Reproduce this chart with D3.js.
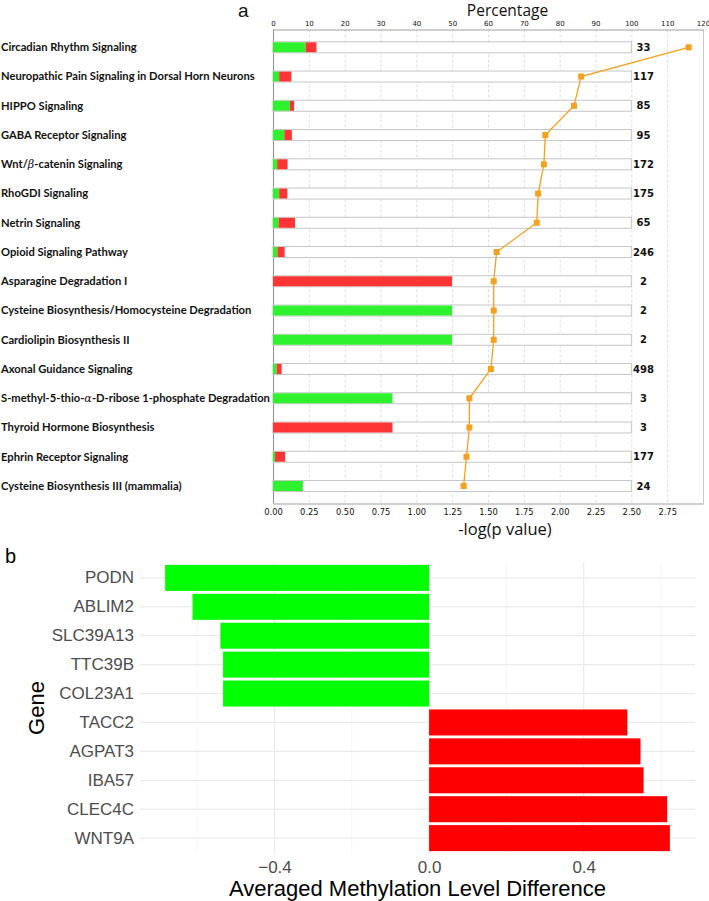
<!DOCTYPE html>
<html>
<head>
<meta charset="utf-8">
<script src="https://cdn.jsdelivr.net/npm/d3@7"></script>
<style>
  html, body { margin: 0; padding: 0; background: #fff; }
  svg { display: block; }
</style>
</head>
<body>
<svg id="chart" width="709" height="901"></svg>
<script>
// ---------- Panel a data ----------
const pathways = [
  "Circadian Rhythm Signaling",
  "Neuropathic Pain Signaling in Dorsal Horn Neurons",
  "HIPPO Signaling",
  "GABA Receptor Signaling",
  "Wnt/β-catenin Signaling",
  "RhoGDI Signaling",
  "Netrin Signaling",
  "Opioid Signaling Pathway",
  "Asparagine Degradation I",
  "Cysteine Biosynthesis/Homocysteine Degradation",
  "Cardiolipin Biosynthesis II",
  "Axonal Guidance Signaling",
  "S-methyl-5-thio-α-D-ribose 1-phosphate Degradation",
  "Thyroid Hormone Biosynthesis",
  "Ephrin Receptor Signaling",
  "Cysteine Biosynthesis III (mammalia)"
];
const downCounts = [3, 2, 4, 3, 2, 3, 1, 3, 0, 1, 1, 5, 1, 0, 1, 2];
const upCounts   = [1, 4, 1, 2, 5, 4, 3, 5, 1, 0, 0, 7, 0, 1, 5, 0];
const totals     = [33, 117, 85, 95, 172, 175, 65, 246, 2, 2, 2, 498, 3, 3, 177, 24];
const logP       = [2.90, 2.15, 2.10, 1.90, 1.89, 1.85, 1.84, 1.56, 1.54, 1.54, 1.54, 1.52, 1.37, 1.37, 1.35, 1.33];
const pctTicks   = [0, 10, 20, 30, 40, 50, 60, 70, 80, 90, 100, 110, 120];
const logTicks   = [0, 0.25, 0.5, 0.75, 1.0, 1.25, 1.5, 1.75, 2.0, 2.25, 2.5, 2.75];

// ---------- Panel b data ----------
const genes = ["PODN", "ABLIM2", "SLC39A13", "TTC39B", "COL23A1", "TACC2", "AGPAT3", "IBA57", "CLEC4C", "WNT9A"];
const methDiff = [-0.683, -0.612, -0.540, -0.533, -0.533, 0.513, 0.547, 0.555, 0.616, 0.623];
const methTicks = [-0.4, 0.0, 0.4];
const methMinor = [-0.6, -0.2, 0.2, 0.6];

const svg = d3.select("#chart");
const GREEN_A = "#2ef22e", RED_A = "#ff3535", ORANGE = "#f5a01e";

// ================= Panel a =================
const aLeft = 273, aRight = 703, aTop = 29.5, aBottom = 503.5;
const xPct = d3.scaleLinear().domain([0, 120]).range([aLeft, aRight]);
const xLog = d3.scaleLinear().domain([0, 3]).range([aLeft, aRight]);
const yA = d3.scalePoint().domain(pathways).range([47.3, 486]);
const barH = 11;

const gA = svg.append("g");

// dashed vertical grid
gA.append("g").selectAll("line").data(pctTicks.slice(1, -1)).join("line")
  .attr("x1", d => xPct(d) + 0.5).attr("x2", d => xPct(d) + 0.5)
  .attr("y1", aTop).attr("y2", aBottom)
  .attr("stroke", "#d6d6d6").attr("stroke-width", 0.8).attr("stroke-dasharray", "3,2");

// frame
gA.append("line").attr("x1", aRight + 0.5).attr("x2", aRight + 0.5).attr("y1", aTop).attr("y2", aBottom)
  .attr("stroke", "#c8c8c8");

// top axis
const topAxis = d3.axisTop(xPct).tickValues(pctTicks).tickSize(0).tickPadding(4).tickFormat(d3.format("d"));
const gTop = gA.append("g").attr("transform", `translate(0,${aTop})`).call(topAxis);
gTop.select(".domain").attr("stroke", "#a0a0a0");
gTop.selectAll("text").attr("font-family", "DejaVu Sans").attr("font-size", 7).attr("fill", "#111");

// bottom axis
const botAxis = d3.axisBottom(xLog).tickValues(logTicks).tickSize(0).tickPadding(6).tickFormat(d3.format(".2f"));
const gBot = gA.append("g").attr("transform", `translate(0,${aBottom})`).call(botAxis);
gBot.select(".domain").attr("stroke", "#a0a0a0");
gBot.selectAll("text").attr("font-family", "DejaVu Sans").attr("font-size", 8.3).attr("fill", "#111");

// left axis line
gA.append("line").attr("x1", aLeft + 0.5).attr("x2", aLeft + 0.5).attr("y1", aTop).attr("y2", aBottom)
  .attr("stroke", "#909090");

// background bars (0..100%)
gA.append("g").selectAll("rect").data(pathways).join("rect")
  .attr("x", xPct(0)).attr("width", xPct(100) - xPct(0))
  .attr("y", d => yA(d) - barH / 2).attr("height", barH)
  .attr("fill", "#fff").attr("stroke", "#c6c6c6").attr("stroke-width", 1);

// stacked percentage bars
const rows = pathways.map((p, i) => ({
  p, down: 100 * downCounts[i] / totals[i], up: 100 * upCounts[i] / totals[i], total: totals[i], lp: logP[i]
}));
gA.append("g").selectAll("rect").data(rows.filter(r => r.down > 0)).join("rect")
  .attr("x", xPct(0)).attr("width", d => xPct(d.down) - xPct(0))
  .attr("y", d => yA(d.p) - barH / 2 + 0.5).attr("height", barH - 1)
  .attr("fill", GREEN_A);
gA.append("g").selectAll("rect").data(rows.filter(r => r.up > 0)).join("rect")
  .attr("x", d => xPct(d.down)).attr("width", d => xPct(d.down + d.up) - xPct(d.down))
  .attr("y", d => yA(d.p) - barH / 2 + 0.5).attr("height", barH - 1)
  .attr("fill", RED_A);

// totals
gA.append("g").selectAll("text").data(rows).join("text")
  .attr("x", 643.5).attr("y", d => yA(d.p) + 3.7)
  .attr("text-anchor", "middle").attr("font-family", "DejaVu Sans").attr("font-weight", "bold")
  .attr("font-size", 10).attr("fill", "#111").text(d => d.total);

// -log(p) line
const line = d3.line().x(d => xLog(d.lp)).y(d => yA(d.p));
gA.append("path").datum(rows).attr("d", line).attr("fill", "none").attr("stroke", ORANGE).attr("stroke-width", 1.3);
gA.append("g").selectAll("rect").data(rows).join("rect")
  .attr("x", d => xLog(d.lp) - 3).attr("y", d => yA(d.p) - 3).attr("width", 6).attr("height", 6)
  .attr("fill", ORANGE);

// category labels with italic greek letters
const lab = gA.append("g").selectAll("text").data(pathways).join("text")
  .attr("x", 1).attr("y", d => yA(d) + 3.8)
  .attr("font-family", "Lato").attr("font-weight", "bold").attr("font-size", 11.2).attr("fill", "#111");
lab.each(function(d) {
  const t = d3.select(this);
  d.split(/([αβ])/).forEach(part => {
    if (!part) return;
    const ts = t.append("tspan").text(part);
    if (part === "α" || part === "β") ts.attr("font-style", "italic").attr("font-family", "DejaVu Serif").attr("font-weight", "normal");
  });
});

// axis titles
gA.append("text").attr("x", 507.5).attr("y", 16).attr("text-anchor", "middle")
  .attr("font-family", "Open Sans").attr("font-size", 15.5).attr("fill", "#111").text("Percentage");
gA.append("text").attr("x", 505).attr("y", 534.5).attr("text-anchor", "middle")
  .attr("font-family", "Open Sans").attr("font-size", 16.5).attr("fill", "#111").text("-log(p value)");
gA.append("text").attr("x", 238).attr("y", 17).attr("font-family", "Liberation Sans")
  .attr("font-size", 19).attr("fill", "#111").text("a");

// ================= Panel b =================
const bLeft = 140, bRight = 695, bTop = 562, bBottom = 854;
const xB = d3.scaleLinear().domain([-0.748, 0.688]).range([bLeft, bRight]);
const yB = d3.scaleBand().domain(genes).range([bTop, bBottom]).padding(0.1);
const gB = svg.append("g");

// grid
gB.append("g").selectAll("line").data(methMinor).join("line")
  .attr("x1", d => xB(d)).attr("x2", d => xB(d)).attr("y1", bTop).attr("y2", bBottom)
  .attr("stroke", "#f2f2f2").attr("stroke-width", 0.8);
gB.append("g").selectAll("line").data(methTicks).join("line")
  .attr("x1", d => xB(d)).attr("x2", d => xB(d)).attr("y1", bTop).attr("y2", bBottom)
  .attr("stroke", "#ebebeb").attr("stroke-width", 1.2);
gB.append("g").selectAll("line").data(genes).join("line")
  .attr("x1", bLeft).attr("x2", bRight).attr("y1", d => yB(d) + yB.bandwidth() / 2).attr("y2", d => yB(d) + yB.bandwidth() / 2)
  .attr("stroke", "#ebebeb").attr("stroke-width", 1.2);

// bars
gB.append("g").selectAll("rect").data(genes.map((g, i) => ({ g, v: methDiff[i] }))).join("rect")
  .attr("x", d => xB(Math.min(0, d.v))).attr("width", d => Math.abs(xB(d.v) - xB(0)))
  .attr("y", d => yB(d.g)).attr("height", yB.bandwidth())
  .attr("fill", d => d.v < 0 ? "#00ff00" : "#ff0000");

// y labels
const yAxisB = d3.axisLeft(yB).tickSize(0).tickPadding(6);
const gYB = gB.append("g").attr("transform", `translate(${bLeft},0)`).call(yAxisB);
gYB.select(".domain").remove();
gYB.selectAll("text").attr("font-family", "Liberation Sans").attr("font-size", 17).attr("fill", "#4d4d4d");

// x labels
const xAxisB = d3.axisBottom(xB).tickValues(methTicks).tickSize(0).tickPadding(7)
  .tickFormat(d => d3.format(".1f")(d).replace("-", "−"));
const gXB = gB.append("g").attr("transform", `translate(0,${bBottom})`).call(xAxisB);
gXB.select(".domain").remove();
gXB.selectAll("text").attr("font-family", "Liberation Sans").attr("font-size", 17).attr("fill", "#4d4d4d");

// titles
gB.append("text").attr("x", (bLeft + bRight) / 2).attr("y", 896).attr("text-anchor", "middle")
  .attr("font-family", "Liberation Sans").attr("font-size", 22).attr("fill", "#000")
  .text("Averaged Methylation Level Difference");
gB.append("text").attr("transform", `translate(44,${(bTop + bBottom) / 2}) rotate(-90)`).attr("text-anchor", "middle")
  .attr("font-family", "Liberation Sans").attr("font-size", 22).attr("fill", "#000").text("Gene");
gB.append("text").attr("x", 5).attr("y", 563).attr("font-family", "Liberation Sans")
  .attr("font-size", 20).attr("fill", "#000").text("b");
</script>
</body>
</html>
